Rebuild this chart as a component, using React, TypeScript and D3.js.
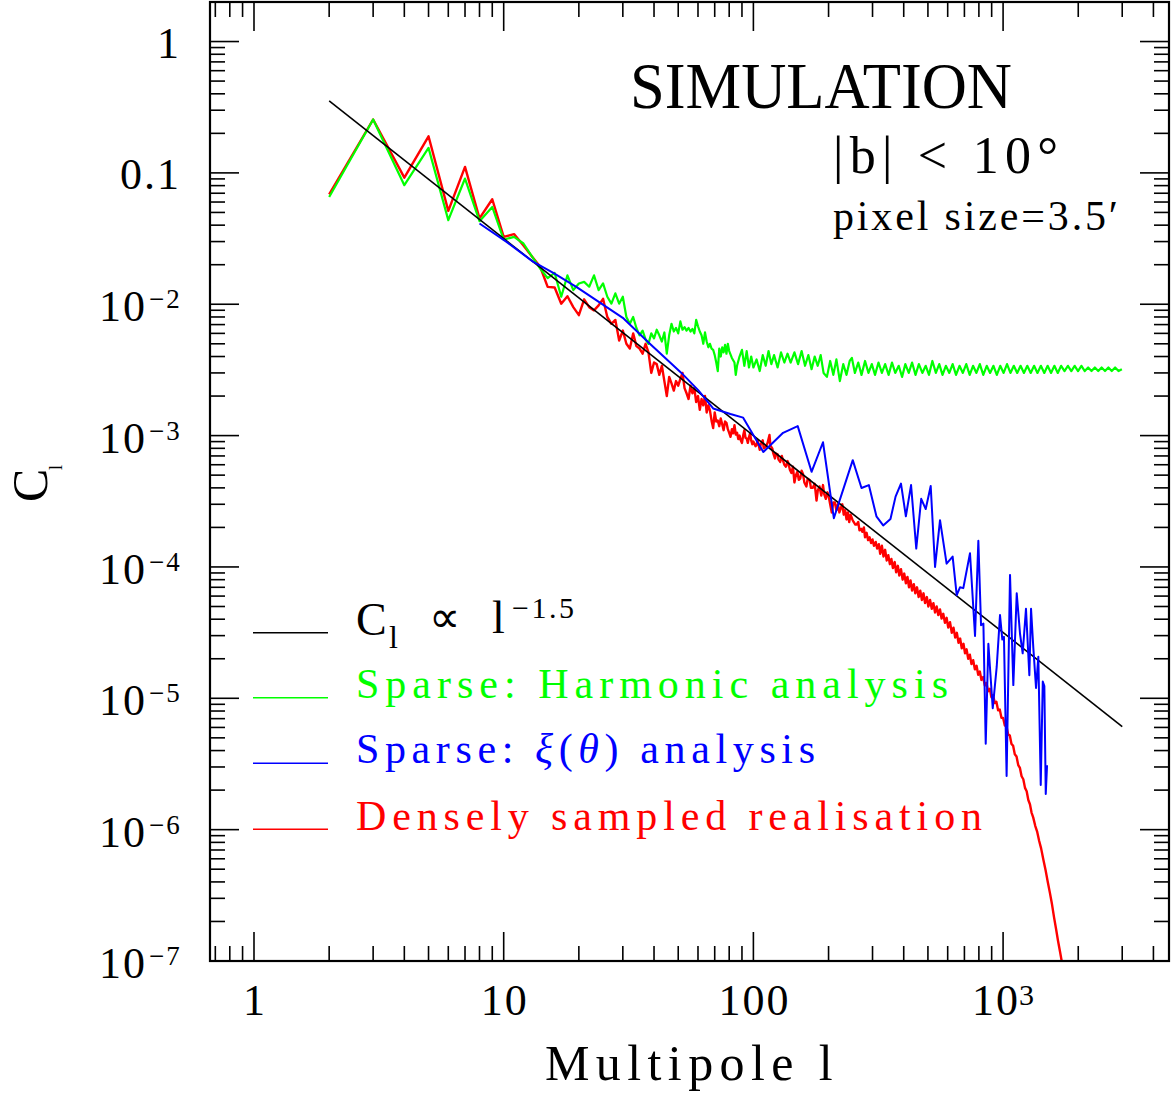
import React from 'react';
import * as d3 from 'd3';

// ---------------- data ----------------
const xMajorTicks = [1, 10, 100, 1000];
const xTickLabels = [
  { base: '1', exp: '' },
  { base: '10', exp: '' },
  { base: '100', exp: '' },
  { base: '10', exp: '3' },
];
const yMajorTicks = [1, 0.1, 1e-2, 1e-3, 1e-4, 1e-5, 1e-6, 1e-7];
const yTickLabels = [
  { base: '1', exp: '' },
  { base: '0.1', exp: '' },
  { base: '10', exp: '\u22122' },
  { base: '10', exp: '\u22123' },
  { base: '10', exp: '\u22124' },
  { base: '10', exp: '\u22125' },
  { base: '10', exp: '\u22126' },
  { base: '10', exp: '\u22127' },
];

// C_l ∝ l^-1.5 (end points)
const powerLaw: [number, number][] = [
  [2, 0.3536],
  [3000, 6.09e-6],
];

// Sparse: harmonic analysis
const harmonic: [number, number][] = [
  [2, 0.0656], [3, 0.255], [4, 0.0806], [5, 0.155], [6, 0.0437], [7, 0.0906], [8, 0.0429], [9, 0.055],
  [10, 0.031], [11, 0.0326], [12, 0.029], [13, 0.023], [14, 0.0187], [15, 0.0158], [16, 0.0173], [17, 0.0114],
  [18, 0.0166], [19, 0.0128], [20, 0.0144], [21, 0.0148], [22, 0.0136], [23, 0.0166], [24, 0.0128], [25, 0.0144],
  [26, 0.0114], [27, 0.0101], [28, 0.0121], [29, 0.0101], [30, 0.0114], [31, 0.008], [32, 0.0071], [33, 0.008],
  [34, 0.0066], [35, 0.0058], [36, 0.0063], [37, 0.0054], [38, 0.005], [39, 0.006], [40, 0.0055], [41, 0.0064],
  [42, 0.0058], [43, 0.0052], [44, 0.0061], [45, 0.0042], [46, 0.0058], [47, 0.0071], [48, 0.0062], [49, 0.0066],
  [50, 0.006], [51, 0.0074], [52, 0.0064], [53, 0.0067], [54, 0.0063], [55, 0.0066], [56, 0.0062], [57, 0.0065],
  [58, 0.006], [59, 0.0076], [60, 0.0068], [61, 0.0062], [62, 0.0058], [63, 0.005], [64, 0.0061], [65, 0.0052],
  [66, 0.0047], [67, 0.005], [68, 0.0046], [69, 0.0045], [70, 0.0041], [71, 0.0036], [72, 0.0031], [73, 0.0046],
  [74, 0.004], [75, 0.0047], [76, 0.0043], [77, 0.0049], [78, 0.0042], [79, 0.005], [80, 0.0044], [82, 0.0039],
  [84, 0.0036], [85, 0.0029], [86, 0.0034], [88, 0.004], [90, 0.0045], [92, 0.0034], [94, 0.0044], [96, 0.0033],
  [98, 0.004], [100, 0.0033], [103, 0.0038], [106, 0.0031], [109, 0.0041], [112, 0.0034], [115, 0.0044], [118, 0.0035],
  [121, 0.0041], [125, 0.0033], [129, 0.0043], [133, 0.0036], [137, 0.0042], [141, 0.0036], [146, 0.0043], [151, 0.0035],
  [156, 0.0044], [161, 0.0034], [166, 0.0041], [171, 0.0032], [176, 0.004], [181, 0.0034], [186, 0.0041], [191, 0.003],
  [197, 0.0028], [203, 0.0037], [209, 0.0029], [215, 0.0038], [222, 0.0026], [229, 0.0035], [236, 0.0029], [243, 0.0037],
  [248, 0.0039], [255, 0.003], [263, 0.0036], [271, 0.0029], [280, 0.0037], [289, 0.003], [298, 0.0035], [307, 0.0029],
  [317, 0.0036], [327, 0.003], [337, 0.0035], [348, 0.0029], [359, 0.0036], [370, 0.003], [382, 0.0034], [394, 0.0028],
  [406, 0.0035], [419, 0.003], [432, 0.0036], [446, 0.0029], [460, 0.0035], [475, 0.003], [490, 0.0034], [505, 0.0029],
  [521, 0.0037], [538, 0.003], [555, 0.0035], [572, 0.0029], [590, 0.0034], [609, 0.003], [628, 0.0035], [648, 0.0029],
  [669, 0.0034], [690, 0.003], [712, 0.0035], [735, 0.0029], [758, 0.0034], [782, 0.003], [807, 0.0035], [833, 0.0029],
  [860, 0.0034], [887, 0.003], [915, 0.0034], [944, 0.0029], [974, 0.0034], [1005, 0.003], [1037, 0.0035], [1070, 0.003],
  [1104, 0.0034], [1139, 0.003], [1175, 0.0034], [1212, 0.003], [1250, 0.0034], [1290, 0.003], [1331, 0.0034], [1373, 0.003],
  [1417, 0.0034], [1462, 0.003], [1508, 0.0034], [1556, 0.003], [1605, 0.0034], [1656, 0.003], [1708, 0.0034], [1762, 0.0031],
  [1818, 0.0034], [1876, 0.0031], [1935, 0.0034], [1996, 0.0031], [2059, 0.0034], [2124, 0.0031], [2191, 0.0033], [2260, 0.0031],
  [2331, 0.0033], [2405, 0.0031], [2481, 0.0033], [2560, 0.0031], [2641, 0.0033], [2724, 0.0031], [2810, 0.0033], [2899, 0.0031],
  [2990, 0.0032],
];

// Sparse: xi(theta) analysis
const xiTheta: [number, number][] = [
  [8, 0.0412], [10.3, 0.0297], [13.1, 0.0211], [15.8, 0.0173], [19.6, 0.0135], [30.2, 0.0078], [38.5, 0.005],
  [51.5, 0.003], [60.1, 0.00222], [69, 0.00161], [80.9, 0.00146], [91, 0.00137], [109.6, 0.00075], [131.5, 0.00105],
  [150.5, 0.00118], [171, 0.00053], [190, 0.00089], [210, 0.000235], [250, 0.00065], [271, 0.000399], [290, 0.00042],
  [311, 0.000243], [331, 0.000207], [354, 0.000232], [371, 0.000343], [390, 0.000431], [408, 0.000243], [428, 0.00042],
  [449, 0.000138], [470, 0.00033], [490, 0.000276], [513, 0.000413], [534, 1.0e-4], [559, 2.27e-4], [594, 1.06e-4],
  [628, 1.2e-4], [652, 6.1e-5], [672, 7.0e-5], [693, 6.9e-5], [737, 1.27e-4], [772, 2.98e-5], [796, 1.58e-4],
  [816, 3.6e-5], [834, 3.7e-5], [852, 4.5e-6], [873, 2.6e-5], [909, 8.4e-6], [943, 1.74e-5], [972, 4.3e-5],
  [993, 2.8e-5], [1008, 2.94e-5], [1033, 2.56e-6], [1066, 8.7e-5], [1099, 1.26e-5], [1134, 6.3e-5], [1169, 3.1e-5],
  [1198, 2.2e-5], [1235, 4.8e-5], [1274, 1.5e-5], [1294, 4.8e-5], [1322, 2.4e-5], [1355, 1.2e-5], [1384, 2.07e-5],
  [1415, 2.19e-6], [1442, 1.34e-5], [1463, 1.24e-5], [1482, 1.87e-6], [1500, 3.1e-6],
];

// Densely sampled realisation
const dense: [number, number][] = [
  [2, 0.0687], [3, 0.255], [4, 0.092], [5, 0.19], [6, 0.0514], [7, 0.111], [8, 0.045], [9, 0.063],
  [10, 0.0326], [11, 0.0342], [12, 0.028], [13, 0.023], [14, 0.0193], [15, 0.01356], [16, 0.0134], [17, 0.0101],
  [18, 0.0115], [19, 0.0095], [20, 0.00826], [21, 0.0109], [22, 0.0095], [23, 0.00898], [24, 0.0098], [25, 0.011],
  [26, 0.008], [27, 0.0071], [28, 0.0076], [29, 0.0053], [30, 0.0063], [31, 0.005], [32, 0.0046], [33, 0.006],
  [34, 0.0048], [35, 0.0046], [36, 0.0042], [37, 0.005], [38, 0.0043], [39, 0.003], [40, 0.0036], [41, 0.0035],
  [42, 0.0029], [43, 0.0034], [44, 0.0026], [45, 0.002], [46, 0.0028], [47, 0.0025], [48, 0.0022], [49, 0.0026],
  [50, 0.0024], [51, 0.0027], [52, 0.003], [53, 0.0023], [54, 0.0021], [55, 0.0019], [56, 0.0024], [57, 0.0021],
  [58, 0.0023], [59, 0.0018], [60, 0.002], [61, 0.00157], [62, 0.0019], [63, 0.0017], [64, 0.002], [65, 0.0015],
  [66, 0.0017], [67, 0.00155], [68, 0.0013], [69, 0.00114], [70, 0.0015], [71, 0.00128], [72, 0.0013], [73, 0.00118],
  [74, 0.00135], [75, 0.00122], [76, 0.0011], [77, 0.00128], [78, 0.00125], [79, 0.00112], [80, 0.00105], [81, 0.00098],
  [82, 0.00112], [83, 0.00104], [84, 0.0012], [85, 0.00102], [86, 0.00105], [87, 0.00094], [88, 0.001], [89, 0.00092],
  [90, 0.00088], [91, 0.001], [92, 0.0011], [93, 0.00096], [94, 0.00095], [95, 0.00088], [96, 0.00097], [97, 0.00104],
  [98, 0.00092], [99, 0.00086], [100, 0.0009], [102, 0.00083], [103, 0.00085], [104, 0.00092], [106, 0.00078], [107, 0.00086],
  [109, 0.00092], [110, 0.0008], [112, 0.00082], [114, 0.00088], [116, 0.00101], [117, 0.00084], [119, 0.0008], [120, 0.00074],
  [122, 0.00067], [123, 0.00073], [125, 0.00072], [126, 0.00066], [128, 0.00063], [130, 0.0007], [131, 0.00066], [133, 0.0006],
  [135, 0.00058], [137, 0.00064], [138, 0.00062], [140, 0.00055], [142, 0.00052], [144, 0.00058], [146, 0.00044], [148, 0.0005],
  [150, 0.00053], [152, 0.00046], [154, 0.00047], [156, 0.00054], [158, 0.00051], [160, 0.00044], [163, 0.00041], [165, 0.00047],
  [168, 0.00046], [170, 0.0004], [173, 0.0004], [176, 0.00043], [179, 0.00032], [181, 0.00038], [184, 0.00041], [187, 0.00035],
  [190, 0.00042], [192, 0.00036], [195, 0.00033], [198, 0.00037], [200, 0.00035], [203, 0.0003], [206, 0.00026], [209, 0.00031],
  [212, 0.00031], [215, 0.00027], [218, 0.0003], [221, 0.00026], [224, 0.00028], [227, 0.0003], [230, 0.00025], [233, 0.00027],
  [236, 0.00023], [239, 0.00026], [242, 0.00022], [245, 0.00025], [249, 0.00023], [252, 0.00022], [256, 0.00021], [259, 0.00021],
  [263, 0.00022], [266, 0.00019], [270, 0.000195], [273, 0.000185], [277, 0.0002], [280, 0.000168], [284, 0.000182], [288, 0.00016],
  [292, 0.000168], [296, 0.000152], [300, 0.000162], [304, 0.000145], [309, 0.000155], [313, 0.000138], [318, 0.000149], [322, 0.000126],
  [327, 0.000145], [332, 0.00012], [337, 0.000135], [342, 0.000112], [347, 0.000123], [352, 0.000105], [357, 0.000115], [362, 9.8e-5],
  [368, 0.000109], [373, 9.1e-5], [379, 0.000102], [384, 8.6e-5], [390, 9.6e-5], [396, 8.0e-5], [402, 8.9e-5], [408, 7.5e-5],
  [414, 8.4e-5], [420, 7.0e-5], [426, 7.9e-5], [432, 6.6e-5], [439, 7.4e-5], [445, 6.3e-5], [452, 7.0e-5], [459, 5.9e-5],
  [466, 6.6e-5], [473, 5.6e-5], [480, 6.3e-5], [487, 5.3e-5], [495, 5.9e-5], [502, 5.0e-5], [510, 5.6e-5], [518, 4.8e-5],
  [526, 5.3e-5], [534, 4.5e-5], [542, 5.0e-5], [550, 4.3e-5], [559, 4.75e-5], [567, 4.05e-5], [576, 4.4e-5], [585, 3.75e-5],
  [594, 4.1e-5], [603, 3.45e-5], [613, 3.8e-5], [623, 3.15e-5], [633, 3.45e-5], [643, 2.9e-5], [653, 3.15e-5], [663, 2.65e-5],
  [673, 2.85e-5], [683, 2.4e-5], [694, 2.6e-5], [704, 2.2e-5], [714, 2.36e-5], [725, 2.0e-5], [736, 2.15e-5], [747, 1.82e-5],
  [759, 1.95e-5], [771, 1.66e-5], [783, 1.77e-5], [795, 1.51e-5], [807, 1.6e-5], [819, 1.38e-5], [832, 1.45e-5], [845, 1.25e-5],
  [858, 1.31e-5], [871, 1.13e-5], [885, 1.18e-5], [898, 1.02e-5], [912, 1.06e-5], [926, 9.2e-6], [940, 9.4e-6], [955, 8.1e-6],
  [970, 8.2e-6], [985, 7.1e-6], [1000, 7.1e-6], [1016, 6.2e-6], [1032, 6.1e-6], [1048, 5.3e-6], [1064, 5.2e-6], [1080, 4.5e-6],
  [1097, 4.35e-6], [1114, 3.75e-6], [1132, 3.6e-6], [1150, 3.1e-6], [1168, 2.95e-6], [1186, 2.55e-6], [1205, 2.42e-6], [1224, 2.08e-6],
  [1243, 1.96e-6], [1262, 1.68e-6], [1281, 1.56e-6], [1300, 1.35e-6], [1320, 1.24e-6], [1345, 1.07e-6], [1370, 9.6e-7], [1395, 8.2e-7],
  [1420, 7.2e-7], [1450, 5.9e-7], [1480, 4.9e-7], [1510, 4.0e-7], [1540, 3.3e-7], [1570, 2.7e-7], [1600, 2.15e-7], [1630, 1.75e-7],
  [1660, 1.42e-7], [1690, 1.18e-7], [1720, 9.8e-8], [1750, 8e-8],
];

const legendItems = [
  { color: '#000000' },
  { color: '#00ff00' },
  { color: '#0000ff' },
  { color: '#ff0000' },
];

// ---------------- layout ----------------
const W = 1172;
const H = 1095;
const L = 210, R = 1169, T = 2, B = 961;
const FONT = "'Liberation Serif', 'Times New Roman', serif";

export default function App() {
  const x = d3.scaleLog().domain([0.6665, 4618]).range([L, R]);
  const y = d3.scaleLog().domain([1e-7, 2]).range([B, T]);
  const line = d3
    .line<[number, number]>()
    .x((d) => x(d[0]))
    .y((d) => y(d[1]));

  const [xd0, xd1] = x.domain();
  const xMinor: number[] = [];
  for (let e = -1; e <= 3; e++) {
    for (let k = 2; k <= 9; k++) {
      const v = k * Math.pow(10, e);
      if (v > xd0 && v < xd1) xMinor.push(v);
    }
  }
  const yMinor: number[] = [];
  for (let e = -7; e <= 0; e++) {
    for (let k = 2; k <= 9; k++) {
      const v = k * Math.pow(10, e);
      if (v > 1e-7 && v < 1.999) yMinor.push(v);
    }
  }

  const MAJ = 29, MIN = 15;
  const tick = { stroke: '#000', strokeWidth: 1.6 };
  const legendY = [632.7, 697.7, 763.3, 829.3];

  return (
    <svg
      width={W}
      height={H}
      viewBox={`0 0 ${W} ${H}`}
      style={{ position: 'absolute', left: 0, top: 0, background: '#fff' }}
      fontFamily={FONT}
    >
      <rect x={0} y={0} width={W} height={H} fill="#fff" />
      <defs>
        <clipPath id="plotclip">
          <rect x={L} y={T} width={R - L} height={B - T} />
        </clipPath>
      </defs>

      {/* ticks */}
      <g>
        {xMajorTicks.map((v) => (
          <g key={'xM' + v}>
            <line x1={x(v)} x2={x(v)} y1={B} y2={B - MAJ} {...tick} />
            <line x1={x(v)} x2={x(v)} y1={T} y2={T + MAJ} {...tick} />
          </g>
        ))}
        {xMinor.map((v) => (
          <g key={'xm' + v}>
            <line x1={x(v)} x2={x(v)} y1={B} y2={B - MIN} {...tick} />
            <line x1={x(v)} x2={x(v)} y1={T} y2={T + MIN} {...tick} />
          </g>
        ))}
        {yMajorTicks.map((v) => (
          <g key={'yM' + v}>
            <line x1={L} x2={L + MAJ} y1={y(v)} y2={y(v)} {...tick} />
            <line x1={R} x2={R - MAJ} y1={y(v)} y2={y(v)} {...tick} />
          </g>
        ))}
        {yMinor.map((v) => (
          <g key={'ym' + v}>
            <line x1={L} x2={L + MIN} y1={y(v)} y2={y(v)} {...tick} />
            <line x1={R} x2={R - MIN} y1={y(v)} y2={y(v)} {...tick} />
          </g>
        ))}
      </g>

      {/* data */}
      <g clipPath="url(#plotclip)" fill="none" strokeLinejoin="round">
        <path d={line(dense) || ''} stroke="#ff0000" strokeWidth={2.4} />
        <path d={line(harmonic) || ''} stroke="#00ff00" strokeWidth={2.2} />
        <path d={line(powerLaw) || ''} stroke="#000000" strokeWidth={1.6} />
        <path d={line(xiTheta) || ''} stroke="#0000ff" strokeWidth={2} />
      </g>

      {/* frame */}
      <rect x={L} y={T} width={R - L} height={B - T} fill="none" stroke="#000" strokeWidth={2.2} />

      {/* y tick labels */}
      {yMajorTicks.map((v, i) => {
        const lab = yTickLabels[i];
        const yy = y(v);
        if (!lab.exp) {
          return (
            <text key={'yl' + i} x={181} y={yy + 16} textAnchor="end" fontSize={44} letterSpacing={2}>
              {lab.base}
            </text>
          );
        }
        return (
          <g key={'yl' + i}>
            <text x={147} y={yy + 17} textAnchor="end" fontSize={44} letterSpacing={2}>
              {lab.base}
            </text>
            <text x={149} y={yy + 4} fontSize={27} letterSpacing={2}>
              {lab.exp}
            </text>
          </g>
        );
      })}

      {/* x tick labels */}
      {xMajorTicks.map((v, i) => {
        const lab = xTickLabels[i];
        const xx = x(v);
        if (!lab.exp) {
          return (
            <text key={'xl' + i} x={xx + 1} y={1015} textAnchor="middle" fontSize={44} letterSpacing={2}>
              {lab.base}
            </text>
          );
        }
        return (
          <g key={'xl' + i}>
            <text x={xx + 17} y={1015} textAnchor="end" fontSize={44} letterSpacing={2}>
              {lab.base}
            </text>
            <text x={xx + 16} y={1005} fontSize={30}>
              {lab.exp}
            </text>
          </g>
        );
      })}

      {/* axis titles */}
      <text x={545} y={1080} fontSize={50} letterSpacing={6.4}>
        Multipole l
      </text>
      <g transform="translate(47,502) rotate(-90)">
        <text x={0} y={0} fontSize={50}>C</text>
        <text x={32} y={15} fontSize={18}>l</text>
      </g>

      {/* annotations */}
      <text x={630} y={108} fontSize={66} textLength={382} lengthAdjust="spacingAndGlyphs">
        SIMULATION
      </text>
      <text x={833} y={173} fontSize={52} textLength={225} lengthAdjust="spacing">
        |b| &lt; 10°
      </text>
      <text x={833} y={230} fontSize={42} textLength={285} lengthAdjust="spacing">
        pixel size=3.5′
      </text>

      {/* legend */}
      {legendItems.map((it, i) => (
        <line key={'lg' + i} x1={253} x2={328} y1={legendY[i]} y2={legendY[i]} stroke={it.color} strokeWidth={1.6} />
      ))}
      <g>
        <text x={356} y={635} fontSize={46}>C</text>
        <text x={389} y={648} fontSize={32}>l</text>
        <text x={429} y={632} fontSize={44}>∝</text>
        <text x={492} y={633} fontSize={46}>l</text>
        <text x={512} y={618} fontSize={30} letterSpacing={2.5}>{'\u22121.5'}</text>
      </g>
      <text x={356} y={698} fontSize={42} fill="#00ff00" textLength={592} lengthAdjust="spacing">
        Sparse: Harmonic analysis
      </text>
      <text x={356} y={763} fontSize={42} fill="#0000ff" textLength={459} lengthAdjust="spacing">
        {'Sparse: '}
        <tspan fontStyle="italic">ξ</tspan>
        {'('}
        <tspan fontStyle="italic">θ</tspan>
        {') analysis'}
      </text>
      <text x={356} y={830} fontSize={42} fill="#ff0000" textLength={626} lengthAdjust="spacing">
        Densely sampled realisation
      </text>
    </svg>
  );
}
